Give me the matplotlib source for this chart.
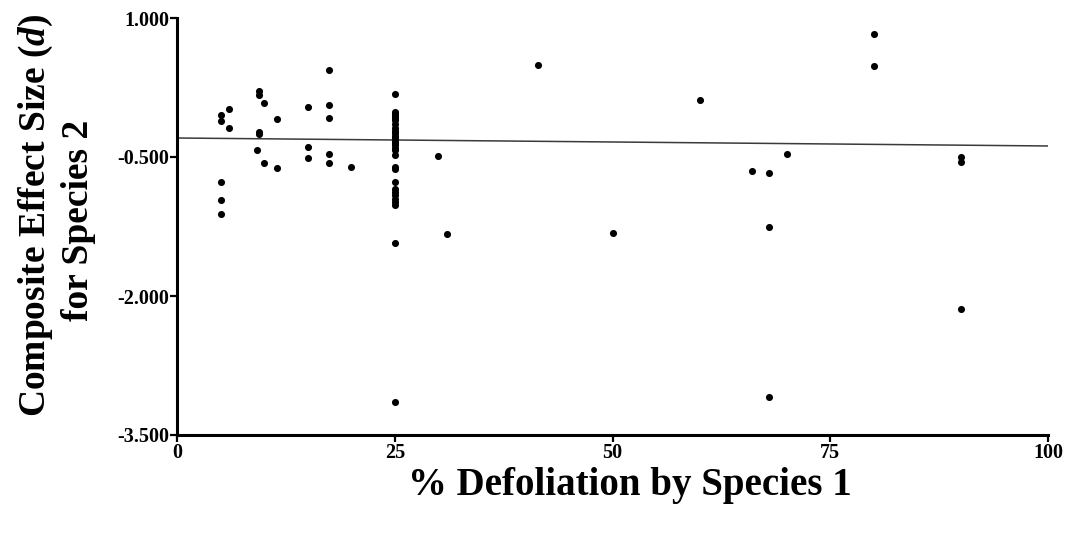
import matplotlib
matplotlib.use("Agg")
import matplotlib.pyplot as plt
import numpy as np

# % defoliation caused by species 1 and the composite effect size (d) on species 2
defoliation = (
    [5.0] * 5 + [6.0] * 2 + [9.4] * 4 + [9.2] + [10.0] * 2 + [11.5] * 2
    + [15.0] * 3 + [17.5] * 5 + [20.0]
    + [25.0] * 29
    + [30.0, 31.0, 41.4, 50.0, 60.0, 66.0]
    + [68.0] * 3 + [70.0] + [80.0] * 2 + [90.0] * 3
)
effect_d = (
    [-0.047, -0.108, -0.773, -0.961, -1.112]
    + [0.015, -0.184]
    + [0.209, 0.169, -0.234, -0.248]
    + [-0.421]
    + [0.079, -0.568]
    + [-0.090, -0.622]
    + [0.043, -0.392, -0.507]
    + [0.442, 0.057, -0.082, -0.464, -0.561]
    + [-0.604]
    # 25 % defoliation column
    + [0.177, -0.011, -0.033, -0.058, -0.083, -0.105,
       -0.191, -0.216, -0.245, -0.270, -0.298, -0.324, -0.349, -0.374,
       -0.400, -0.424, -0.475, -0.611, -0.633,
       -0.773, -0.845, -0.880, -0.915, -0.950, -0.985, -1.015,
       -1.431, -3.147, -0.140]
    + [-0.489, -1.334, 0.496, -1.324, 0.115, -0.651]
    + [-0.676, -1.255, -3.093]
    + [-0.471]
    + [0.824, 0.485]
    + [-0.500, -0.557, -2.143]
)

# fitted regression line
fit_intercept = -0.295
fit_slope = -0.00086

x_ticks = [0, 25, 50, 75, 100]
y_ticks = [1.0, -0.5, -2.0, -3.5]

serif = "Liberation Serif"
plt.rcParams["mathtext.fontset"] = "custom"
plt.rcParams["mathtext.bfit"] = "Liberation Serif:italic:bold"
plt.rcParams["mathtext.it"] = "Liberation Serif:italic:bold"

fig = plt.figure(figsize=(10.74, 5.37), dpi=100)
ax = fig.add_axes([177 / 1074, 1 - 435 / 537, (1048 - 177) / 1074, (435 - 18) / 537])

ax.scatter(defoliation, effect_d, s=26, color="black", zorder=3, linewidths=0)

fx = np.array([0.0, 100.0])
ax.plot(fx, fit_intercept + fit_slope * fx, color="#3a3a3a", lw=1.1, zorder=2)

ax.set_xlim(0, 100)
ax.set_ylim(-3.5, 1.0)
ax.set_xticks(x_ticks)
ax.set_xticklabels([str(t) for t in x_ticks])
ax.set_yticks(y_ticks)
ax.set_yticklabels([f"{t:.3f}" for t in y_ticks])

for side in ("top", "right"):
    ax.spines[side].set_visible(False)
for side in ("left", "bottom"):
    ax.spines[side].set_linewidth(2.2)
    ax.spines[side].set_capstyle("projecting")

ax.tick_params(axis="both", direction="out", length=5, width=1.6, pad=0.5)
for lab in ax.get_xticklabels() + ax.get_yticklabels():
    lab.set_fontfamily(serif)
    lab.set_fontweight("bold")
    lab.set_fontsize(14.5)

fig.text(630 / 1074, 1 - 486 / 537, "% Defoliation by Species 1",
         family=serif, weight="bold", fontsize=28, ha="center", va="center")

fig.text(36 / 1074, 1 - 215 / 537, r"Composite Effect Size ($\mathit{d}$)",
         family=serif, weight="bold", fontsize=27, rotation=90,
         ha="center", va="center")
fig.text(78 / 1074, 1 - 220 / 537, "for Species 2",
         family=serif, weight="bold", fontsize=27, rotation=90,
         ha="center", va="center")

fig.savefig("out.png", dpi=100)
